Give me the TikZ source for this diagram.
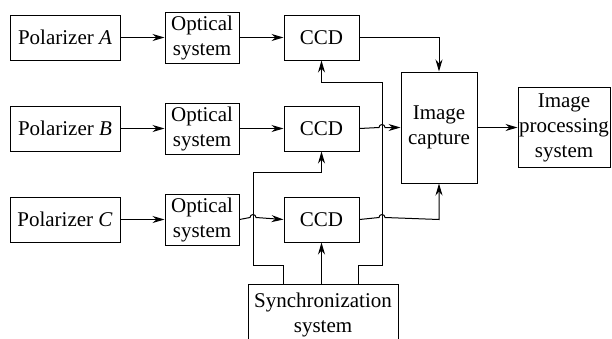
\documentclass[tikz,border=0pt]{standalone}
\usepackage{fontspec}
\setmainfont{Liberation Serif}
\usetikzlibrary{positioning,arrows.meta}

\begin{document}
\begin{tikzpicture}[x=1pt,y=1pt,>={Stealth[length=12pt,width=7pt]},line width=1pt,
  node distance=45pt and 44pt,
  blk/.style={draw,inner sep=0pt,align=center,font=\fontsize{21}{25}\selectfont}]
\useasboundingbox (0,0) rectangle (612,-338);
% polarizer rows
\node[blk,minimum width=110pt,minimum height=45pt] (polA) at (65,-37.5) {Polarizer \textit{A}};
\node[blk,minimum width=110pt,minimum height=45pt] (polB) [below=of polA] {Polarizer \textit{B}};
\node[blk,minimum width=110pt,minimum height=45pt] (polC) [below=of polB] {Polarizer \textit{C}};
\node[blk,minimum width=74pt,minimum height=51pt] (optA) [right=of polA] {Optical\\system};
\node[blk,minimum width=74pt,minimum height=51pt] (optB) [right=of polB] {Optical\\system};
\node[blk,minimum width=74pt,minimum height=51pt] (optC) [right=of polC] {Optical\\system};
\node[blk,minimum width=75pt,minimum height=45pt] (ccdA) [right=of optA] {CCD};
\node[blk,minimum width=75pt,minimum height=45pt] (ccdB) [right=of optB] {CCD};
\node[blk,minimum width=75pt,minimum height=45pt] (ccdC) [right=of optC] {CCD};
\node[blk,minimum width=76pt,minimum height=111pt] (cap) at (439,-127.5) {Image\\capture};
\node[blk,minimum width=92pt,minimum height=80pt] (proc) [right=40pt of cap] {Image\\processing\\system};
\node[blk,minimum width=150pt,minimum height=62pt] (sync) at (323,-315) {Synchronization\\system};
% sync leads
\coordinate (syncL) at (283,-284);
\coordinate (syncR) at (358,-284);
\coordinate (bendL) at (253,-265);
\coordinate (bendR) at (382,-265);
\draw[->] (polA) -- (optA);
\draw[->] (polB) -- (optB);
\draw[->] (polC) -- (optC);
\draw[->] (optA) -- (ccdA);
\draw[->] (optB) -- (ccdB);
\draw[->] (optC.east) -- (250,-217.5) arc[start angle=180,end angle=0,radius=3] -- (ccdC.west);
\draw[->] (ccdA.east) -| (cap.north);
\draw[->] (ccdB.east) -- (379,-127.5) arc[start angle=180,end angle=0,radius=3] -- (cap.west);
\draw[->] (ccdC.east) -- (379,-217.5) arc[start angle=180,end angle=0,radius=3] -- (cap.south |- ccdC.east) -- (cap.south);
\draw[->] (cap.east |- proc.west) -- (proc.west);
\draw[->] (ccdC.south |- sync.north) -- (ccdC.south);
\draw[->] (syncL) |- (bendL) -- (bendL |- 0,-172) -| (ccdB.south);
\draw[->] (syncR) |- (bendR) -- (bendR |- 0,-82) -| (ccdA.south);
\end{tikzpicture}
\end{document}
